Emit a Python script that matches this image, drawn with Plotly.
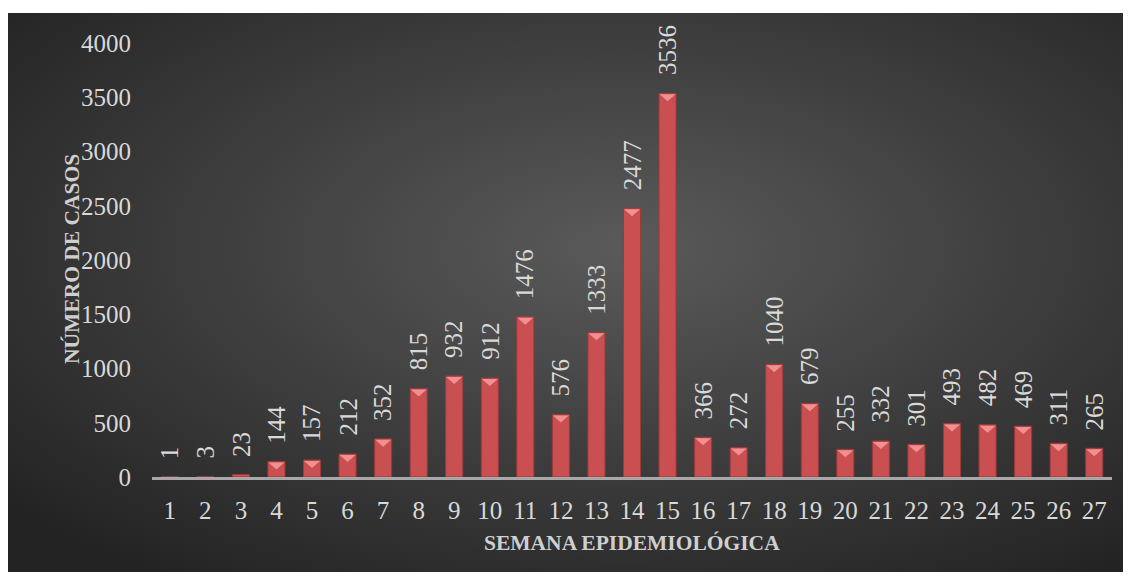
import base64
import plotly.graph_objs as go

semanas = [str(i) for i in range(1, 28)]
casos = [1, 3, 23, 144, 157, 212, 352, 815, 932, 912, 1476, 576, 1333, 2477, 3536,
         366, 272, 1040, 679, 255, 332, 301, 493, 482, 469, 311, 265]
y_ticks = [0, 500, 1000, 1500, 2000, 2500, 3000, 3500, 4000]

FONT = "Liberation Serif"
TEXT_COLOR = "#d9d9d9"

# the page body has an 8px margin, so everything is laid out 8px up/left
OFF = 8
W, H = 1131 - OFF, 579 - OFF
ml, mr, mt, mb = 152 - OFF, W - (1112 - OFF), 43 - OFF, H - (477 - OFF)
pw, ph = W - ml - mr, H - mt - mb
Y_MAX = 4000

# fondo con degradado radial
svg = """<svg xmlns='http://www.w3.org/2000/svg' width='1118' height='559' viewBox='0 0 1118 559' preserveAspectRatio='none'>
<defs><radialGradient id='g' cx='0.55' cy='0.42' r='0.72'>
<stop offset='0' stop-color='#5a5a5a'/>
<stop offset='1' stop-color='#232323'/>
</radialGradient></defs>
<rect x='0' y='0' width='1118' height='559' fill='url(#g)'/>
</svg>"""
bg_src = "data:image/svg+xml;base64," + base64.b64encode(svg.encode()).decode()


def px_x(px):
    return (px - OFF - ml) / pw


def px_y(py):
    return (H - mb - (py - OFF)) / ph


fig = go.Figure(
    data=[
        go.Bar(x=semanas, y=casos,
               marker=dict(color="#c94f50", line=dict(color="#9a3a3c", width=1)),
               showlegend=False)
    ]
)

annotations = []
shapes = []
for i, c in enumerate(casos):
    annotations.append(dict(x=i, y=c, xref="x", yref="y", text=str(c), showarrow=False,
                            textangle=-90, xanchor="center", yanchor="bottom", yshift=16,
                            font=dict(family=FONT, size=25, color=TEXT_COLOR)))
    # bisel superior (triangulo claro) solo si la barra es suficientemente alta
    if c / Y_MAX * ph > 9:
        shapes.append(dict(type="path", xref="x", yref="y", xsizemode="pixel", ysizemode="pixel",
                           xanchor=i, yanchor=c, path="M -8,-1 L 8,-1 L 0,-8 Z",
                           fillcolor="#f09090", line=dict(width=0), layer="above"))

annotations.append(dict(x=px_x(72), y=px_y(259), xref="paper", yref="paper",
                        xanchor="center", yanchor="middle",
                        text="<b>NÚMERO DE CASOS</b>", showarrow=False, textangle=-90,
                        font=dict(family=FONT, size=21.5, color="#cfcfcf")))
annotations.append(dict(x=px_x(632), y=px_y(543), xref="paper", yref="paper",
                        xanchor="center", yanchor="middle",
                        text="<b>SEMANA EPIDEMIOLÓGICA</b>", showarrow=False,
                        font=dict(family=FONT, size=21.5, color="#cfcfcf")))

fig.update_layout(
    width=W, height=H,
    margin=dict(l=ml, r=mr, t=mt, b=mb),
    paper_bgcolor="white",
    plot_bgcolor="rgba(0,0,0,0)",
    bargap=0.52,
    annotations=annotations,
    shapes=shapes,
    images=[dict(source=bg_src, xref="paper", yref="paper",
                 x=px_x(8), y=px_y(13),
                 sizex=1117 / pw, sizey=559 / ph, sizing="stretch",
                 xanchor="left", yanchor="top", layer="below")],
    xaxis=dict(type="category", showgrid=False, showline=True, linecolor="#a8a8a8", linewidth=2.5,
               ticks="outside", ticklen=9, tickcolor="rgba(0,0,0,0)",
               tickfont=dict(family=FONT, size=25, color=TEXT_COLOR)),
    yaxis=dict(range=[0, Y_MAX], tickvals=y_ticks, showgrid=False, zeroline=False,
               showline=False, ticks="outside", ticklen=15, tickcolor="rgba(0,0,0,0)",
               tickfont=dict(family=FONT, size=25, color=TEXT_COLOR)),
)

fig.write_html("out.html")
